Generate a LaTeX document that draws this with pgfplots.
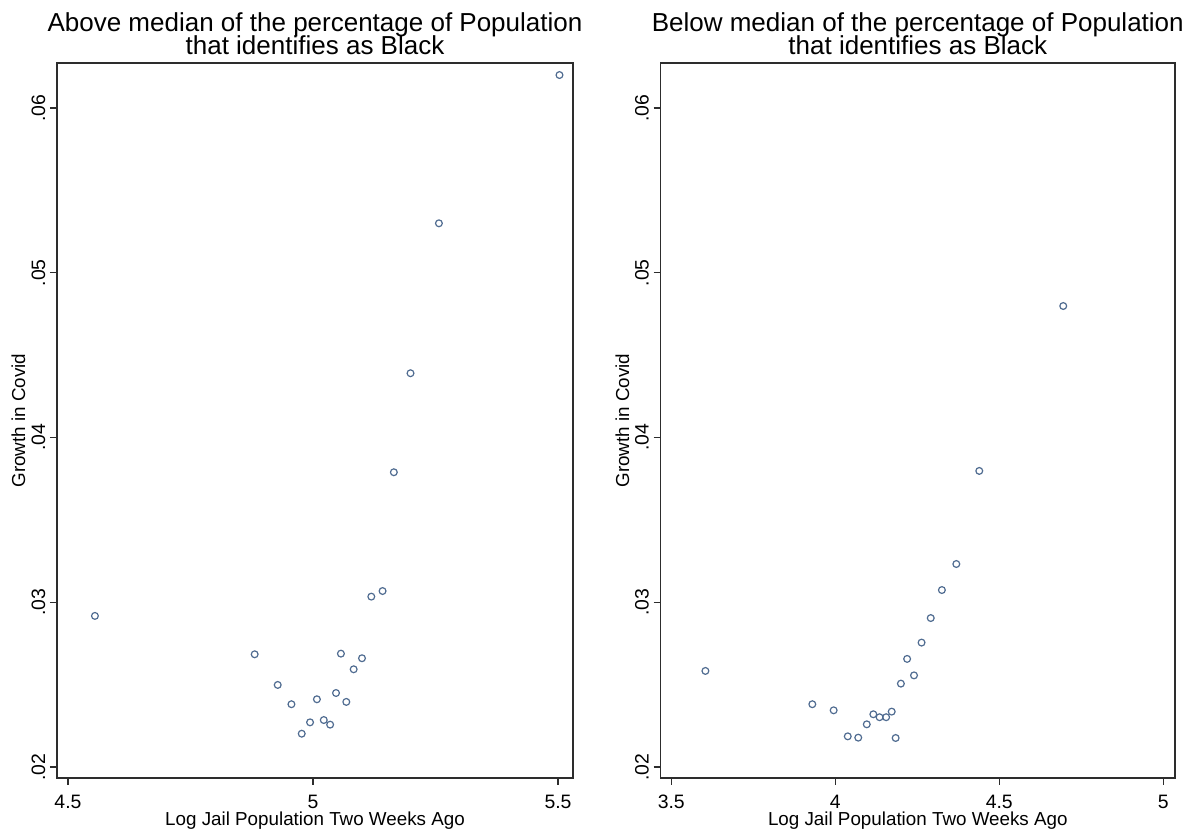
\documentclass[border=0pt]{standalone}
\usepackage{fontspec}
\setmainfont{Liberation Sans}
\usepackage{pgfplots}
\pgfplotsset{compat=1.18}
\definecolor{mk}{RGB}{80,108,145}
\definecolor{frame}{RGB}{45,45,45}
\pgfplotsset{
  binstyle/.style={
    scale only axis,
    height=357.5pt,
    ymin=0.019332, ymax=0.062731,
    ytick={0.02,0.03,0.04,0.05,0.06},
    yticklabels={.02,.03,.04,.05,.06},
    scaled y ticks=false,
    /pgf/number format/assume math mode=true,
    axis line style={frame, line width=0.7pt},
    tick style={frame, line width=0.6pt},
    tick align=outside,
    major tick length=3.5pt,
    xtick pos=bottom, ytick pos=left,
    every tick label/.append style={font=\fontsize{9.7}{11}\selectfont, text=black},
    xticklabel style={anchor=north, inner sep=0pt, yshift=-5pt},
    yticklabel style={xshift=-2.2pt, rotate=90, anchor=south, inner sep=0pt},
    xlabel={Log Jail Population Two Weeks Ago},
    ylabel={Growth in Covid},
    label style={font=\fontsize{9.4}{11}\selectfont},
    xlabel style={at={(axis description cs:0.5,0)}, anchor=base, yshift=-24pt, inner sep=0pt},
    ylabel style={anchor=center, inner sep=0pt},
    title style={align=center, font=\fontsize{13}{11.7}\selectfont, inner sep=0pt, anchor=north, at={(0.5,1)}, yshift=19.5pt},
    clip=false,
  }
}
\begin{document}
\begin{tikzpicture}
\path (0,0) rectangle (595.5pt,417pt);
\begin{axis}[binstyle,
  at={(28.5pt,28pt)}, anchor=south west,
  width=258pt,
  xmin=4.4776, xmax=5.5306,
  xtick={4.5,5,5.5}, xticklabels={4.5,5,5.5},
  ylabel style={at={(axis description cs:-0.0746,0.5)}},
  title={Above median of the percentage of Population\\[-1.5pt]that identifies as Black},
]
\addplot[only marks, mark=o, mark size=1.7pt, mark options={draw=mk, line width=0.6pt}] coordinates {
(4.555,0.02917) (4.881,0.02684) (4.928,0.02498) (4.956,0.02381) (4.977,0.02202)
(4.994,0.02271) (5.008,0.02411) (5.022,0.02285) (5.035,0.02257) (5.047,0.02449)
(5.057,0.02688) (5.068,0.02395) (5.083,0.02593) (5.100,0.02660) (5.119,0.03034)
(5.142,0.03068) (5.165,0.03789) (5.199,0.04390) (5.257,0.05300) (5.503,0.06200)
};
\end{axis}
\begin{axis}[binstyle,
  at={(330.3pt,28pt)}, anchor=south west,
  width=257.2pt,
  xmin=3.4674, xmax=5.0357,
  xtick={3.5,4,4.5,5}, xticklabels={3.5,4,4.5,5},
  ylabel style={at={(axis description cs:-0.0745,0.5)}},
  title={Below median of the percentage of Population\\[-1.5pt]that identifies as Black},
]
\addplot[only marks, mark=o, mark size=1.7pt, mark options={draw=mk, line width=0.6pt}] coordinates {
(3.604,0.02583) (3.930,0.02381) (3.995,0.02344) (4.038,0.02186) (4.070,0.02178)
(4.096,0.02259) (4.116,0.02320) (4.135,0.02302) (4.155,0.02302) (4.172,0.02336)
(4.184,0.02176) (4.200,0.02506) (4.219,0.02656) (4.240,0.02556) (4.263,0.02755)
(4.291,0.02904) (4.325,0.03074) (4.369,0.03232) (4.439,0.03797) (4.695,0.04798)
};
\end{axis}
\end{tikzpicture}
\end{document}
